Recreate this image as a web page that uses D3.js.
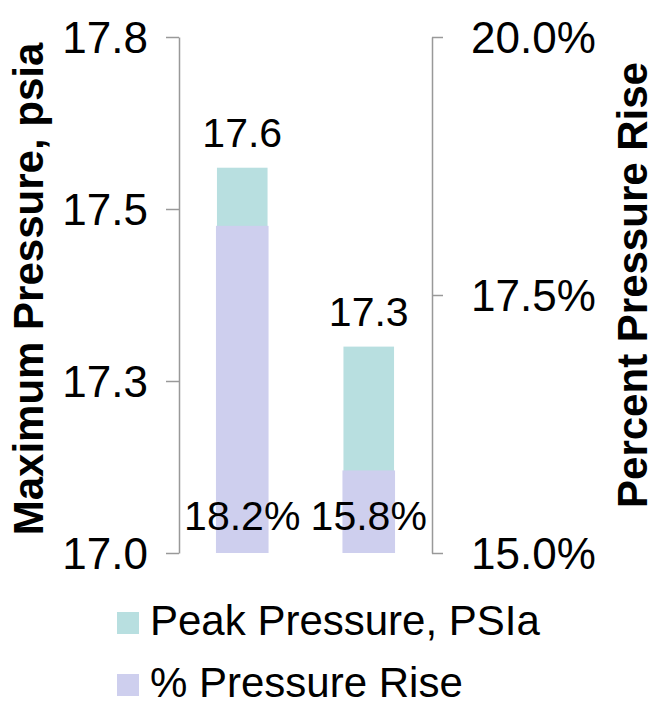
<!DOCTYPE html>
<html>
<head>
<meta charset="utf-8">
<script src="https://cdn.jsdelivr.net/npm/d3@7/dist/d3.min.js"></script>
<style>
  html, body { margin: 0; padding: 0; background: #fff; }
  svg { display: block; font-family: "Liberation Sans", Arial, sans-serif; }
</style>
</head>
<body>
<svg id="chart" width="664" height="709"></svg>
<script>
// Two cases: peak pressure (left axis) and percent pressure rise (right axis)
const categories = ["Case A", "Case B"];
const peakPressure = [17.56, 17.30];
const pressureRise = [0.1817, 0.1580];
const leftTicks = [17.0, 17.25, 17.5, 17.75];
const leftTickLabels = ["17.0", "17.3", "17.5", "17.8"];
const rightTicks = [0.15, 0.175, 0.20];
const rightTickLabels = ["15.0%", "17.5%", "20.0%"];
const seriesNames = ["Peak Pressure, PSIa", "% Pressure Rise"];
const colors = ["#b8dfe0", "#cecfee"];

const svg = d3.select("#chart");
const plot = { left: 179, right: 432, top: 37, bottom: 553 };

const x = d3.scaleBand().domain(categories).range([plot.left, plot.right]);
const yL = d3.scaleLinear().domain([17.0, 17.75]).range([plot.bottom, plot.top]);
const yR = d3.scaleLinear().domain([0.15, 0.20]).range([plot.bottom, plot.top]);
const barW = x.bandwidth() * 0.40;

// Axes
const leftAxis = d3.axisLeft(yL).tickValues(leftTicks)
  .tickFormat((d, i) => leftTickLabels[i]).tickSizeInner(13).tickSizeOuter(0).tickPadding(18);
const rightAxis = d3.axisRight(yR).tickValues(rightTicks)
  .tickFormat((d, i) => rightTickLabels[i]).tickSizeInner(11).tickSizeOuter(0).tickPadding(28);

function styleAxis(g) {
  g.select(".domain").attr("stroke", "#999").attr("stroke-width", 1.5);
  g.selectAll(".tick line").attr("stroke", "#999").attr("stroke-width", 1.5);
  g.selectAll(".tick text").attr("fill", "#000").style("font-size", "44px")
    .attr("dy", "0.36em");
}
svg.append("g").attr("transform", `translate(${plot.left},0)`).call(leftAxis).call(styleAxis);
svg.append("g").attr("transform", `translate(${plot.right},0)`).call(rightAxis).call(styleAxis);

// Peak pressure bars (primary axis)
svg.append("g").selectAll("rect").data(peakPressure).join("rect")
  .attr("x", (d, i) => x(categories[i]) + x.bandwidth() / 2 - barW / 2)
  .attr("width", barW)
  .attr("y", d => yL(d))
  .attr("height", d => plot.bottom - yL(d))
  .attr("fill", colors[0]);

// Percent rise bars (secondary axis), drawn in front
svg.append("g").selectAll("rect").data(pressureRise).join("rect")
  .attr("x", (d, i) => x(categories[i]) + x.bandwidth() / 2 - barW / 2 - 1)
  .attr("width", barW + 2)
  .attr("y", d => yR(d))
  .attr("height", d => plot.bottom - yR(d))
  .attr("fill", colors[1]);

// Value labels
const fmtP = d3.format(".1f");
const fmtR = d3.format(".1%");
svg.append("g").selectAll("text").data(peakPressure).join("text")
  .attr("x", (d, i) => x(categories[i]) + x.bandwidth() / 2)
  .attr("y", d => yL(d) - 21)
  .attr("text-anchor", "middle").style("font-size", "41px").attr("fill", "#000")
  .text(d => fmtP(d));
svg.append("g").selectAll("text").data(pressureRise).join("text")
  .attr("x", (d, i) => x(categories[i]) + x.bandwidth() / 2)
  .attr("y", plot.bottom - 23)
  .attr("text-anchor", "middle").style("font-size", "41px").attr("fill", "#000")
  .text(d => fmtR(d));

// Axis titles
svg.append("text")
  .attr("transform", "translate(43,289) rotate(-90)")
  .attr("text-anchor", "middle").style("font-size", "42px").style("font-weight", "bold")
  .text("Maximum Pressure, psia");
svg.append("text")
  .attr("transform", "translate(647,285) rotate(-90)")
  .attr("text-anchor", "middle").style("font-size", "42px").style("font-weight", "bold")
  .text("Percent Pressure Rise");

// Legend
const legend = svg.append("g").selectAll("g").data(seriesNames).join("g")
  .attr("transform", (d, i) => `translate(117,${612 + i * 62})`);
legend.append("rect").attr("width", 22).attr("height", 22).attr("fill", (d, i) => colors[i]);
legend.append("text").attr("x", 33).attr("y", 23)
  .style("font-size", "42px").attr("fill", "#000").text(d => d);
</script>
</body>
</html>
